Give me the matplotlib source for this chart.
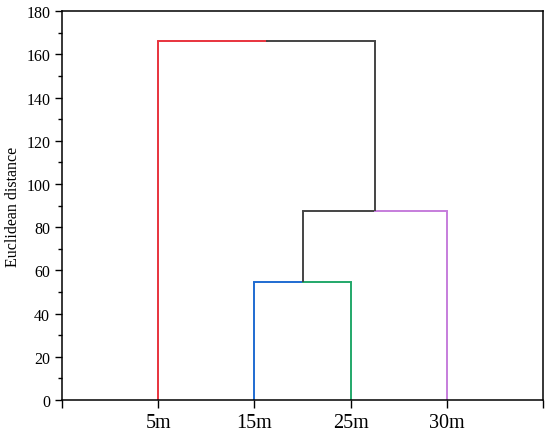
import numpy as np
import matplotlib.pyplot as plt

plt.rcParams['font.family'] = ['Liberation Serif', 'DejaVu Serif']

# leaves of the dendrogram
leaf_labels = ["5m", "15m", "25m", "30m"]
leaf_colors = ["#e8333d", "#1f6bd1", "#22a86a", "#c67ddc"]

# merges: (left child, right child, height); children >= 4 are earlier clusters
merge_left = [1, 4, 0]
merge_right = [2, 3, 5]
merge_height = [54.7, 87.3, 166.1]
cluster_color = "#444444"

fig = plt.figure(figsize=(5.5, 4.35), dpi=100)
ax = fig.add_axes([0.1127, 0.078, 0.875, 0.894])

n = len(leaf_labels)
xpos = {i: i + 1.0 for i in range(n)}
ypos = {i: 0.0 for i in range(n)}
col = {i: leaf_colors[i] for i in range(n)}

for k, (a, b, h) in enumerate(zip(merge_left, merge_right, merge_height)):
    xa, xb = xpos[a], xpos[b]
    xm = (xa + xb) / 2
    lw = 1.4
    ax.plot([xa, xa], [ypos[a], h], color=col[a], lw=lw, solid_capstyle='butt')
    ax.plot([xb, xb], [ypos[b], h], color=col[b], lw=lw, solid_capstyle='butt')
    ax.plot([xa, xm], [h, h], color=col[a], lw=lw, solid_capstyle='projecting')
    ax.plot([xm, xb], [h, h], color=col[b], lw=lw, solid_capstyle='projecting')
    new = n + k
    xpos[new] = xm
    ypos[new] = h
    col[new] = cluster_color

ax.set_xlim(0, n + 1)
ax.set_ylim(0, 180)
ax.set_xticks(np.arange(0, n + 2))
ax.set_xticklabels([""] + leaf_labels + [""], fontsize=14.5)
ax.set_yticks(np.arange(0, 181, 20))
ax.set_yticks(np.arange(10, 180, 20), minor=True)
ax.tick_params(axis='y', labelsize=11.5, direction='out', length=5, width=1)
ax.tick_params(axis='y', which='minor', length=3, width=1)
ax.tick_params(axis='x', direction='out', length=6, width=1, pad=3)
ax.set_ylabel("Euclidean distance", fontsize=11.5, labelpad=4)
for s in ax.spines.values():
    s.set_linewidth(1.1)

fig.savefig("out.png", dpi=100)
